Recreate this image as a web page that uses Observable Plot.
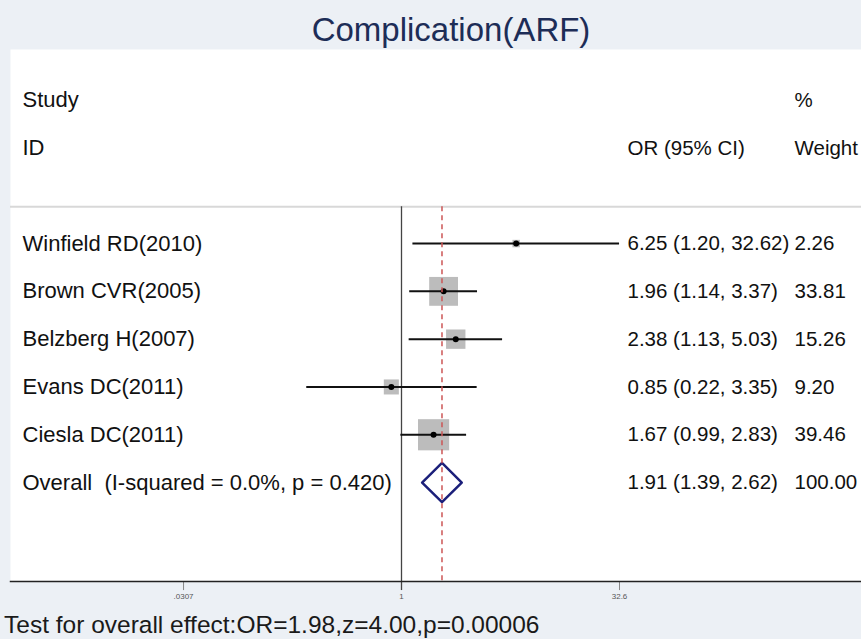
<!DOCTYPE html>
<html><head><meta charset="utf-8">
<script src="https://cdn.jsdelivr.net/npm/d3@7"></script>
<script src="https://cdn.jsdelivr.net/npm/@observablehq/plot@0.6"></script>
<style>
html,body{margin:0;padding:0;background:#ffffff;}
#wrap{width:861px;height:639px;background:#ecf0f5;overflow:hidden;font-family:"Liberation Sans",Arial,sans-serif;}
#title{position:relative;height:37px;margin-top:12px;}
#title span{position:absolute;left:451px;top:0px;transform:translateX(-50%);font-size:33px;line-height:36px;color:#1d2d57;white-space:nowrap;}
#chart svg{display:block;}
#caption{height:32px;line-height:36px;font-size:24.5px;color:#1a1a1a;padding-left:4px;white-space:nowrap;}
</style>
</head><body>
<div id="wrap">
  <div id="title"><span>Complication(ARF)</span></div>
  <div id="chart"></div>
  <div id="caption">Test for overall effect:OR=1.98,z=4.00,p=0.00006</div>
</div>
<script>
// ---- data ----
const studies = ["Winfield RD(2010)", "Brown CVR(2005)", "Belzberg H(2007)", "Evans DC(2011)", "Ciesla DC(2011)"];
const orValues = [6.25, 1.96, 2.38, 0.85, 1.67];
const ciLow = [1.20, 1.14, 1.13, 0.22, 0.99];
const ciHigh = [32.62, 3.37, 5.03, 3.35, 2.83];
const weights = [2.26, 33.81, 15.26, 9.20, 39.46];
const overallLabel = "Overall\u00a0 (I-squared = 0.0%, p = 0.420)";
const overallOR = 1.91, overallLow = 1.39, overallHigh = 2.62, overallWeight = 100.00;
const tickValues = [0.0307, 1, 32.6];
const tickLabels = [".0307", "1", "32.6"];
const headerLeft = ["Study", "ID"];
const headerOR = ["", "OR (95% CI)"];
const headerWeight = ["%", "Weight"];

// ---- tables ----
const rows = studies.map((s, i) => ({row: i + 1, study: s, or: orValues[i], lo: ciLow[i], hi: ciHigh[i], weight: weights[i]}));
const overallRow = {row: studies.length + 1, study: overallLabel, or: overallOR, lo: overallLow, hi: overallHigh, weight: overallWeight};
const allRows = [...rows, overallRow];
const headers = headerLeft.map((h, i) => ({row: i - 2, left: h, or: headerOR[i], weight: headerWeight[i]}));
const ticks = tickValues.map((v, i) => ({value: v, label: tickLabels[i]}));
const fmt = d3.format(".2f");
const dh = 0.41;
const diamond = [
  {x: overallRow.lo, y: overallRow.row},
  {x: overallRow.or, y: overallRow.row - dh},
  {x: overallRow.hi, y: overallRow.row},
  {x: overallRow.or, y: overallRow.row + dh}
];
const lineTop = 0.23, yMin = -3.06, yMax = 8.07, tickLen = 0.19;
const font = "Liberation Sans, Arial, sans-serif";
const leftSize = 22, rightSize = 20.5;

const chart = Plot.plot({
  width: 861, height: 558,
  marginLeft: 10, marginRight: 0, marginTop: 0, marginBottom: 26,
  style: {background: "#ecf0f5", fontFamily: font, overflow: "visible"},
  x: {type: "log", domain: [Math.exp(-391 / 62.57), Math.exp(460 / 62.57)], axis: null},
  y: {domain: [yMin, yMax], reverse: true, axis: null},
  r: {type: "sqrt", domain: [0, 40], range: [0, 17.7]},
  marks: [
    Plot.frame({fill: "white", stroke: "none"}),
    Plot.ruleY([lineTop], {stroke: "#d8d8d8", strokeWidth: 2}),
    Plot.ruleX(ticks, {x: "value", y1: yMax, y2: yMax + tickLen, stroke: "#888", strokeWidth: 1, clip: false}),
    Plot.ruleX([1], {y1: lineTop, y2: yMax + tickLen, stroke: "#444", strokeWidth: 1.3}),
    Plot.dot(rows, {x: "or", y: "row", r: "weight", symbol: "square", fill: "#bcbcbc", stroke: "none"}),
    Plot.ruleY(rows, {y: "row", x1: "lo", x2: "hi", stroke: "#111", strokeWidth: 2}),
    Plot.dot(rows, {x: "or", y: "row", r: 3, fill: "#000", stroke: "none"}),
    Plot.line(diamond, {x: "x", y: "y", curve: "linear-closed", stroke: "#1b1f7a", strokeWidth: 2.5, fill: "none"}),
    Plot.ruleX([overallOR], {y1: lineTop, y2: yMax, stroke: "#cc5555", strokeWidth: 1.5, strokeDasharray: "5,4"}),
    Plot.frame({anchor: "bottom", stroke: "#222", strokeWidth: 1.5}),
    Plot.text(ticks, {x: "value", text: "label", frameAnchor: "bottom", dy: 17, fontSize: 8, fill: "#555"}),
    Plot.text(headers, {y: "row", text: "left", frameAnchor: "left", dx: 12, textAnchor: "start", fontSize: leftSize, fill: "#111"}),
    Plot.text(headers, {y: "row", text: "or", frameAnchor: "left", dx: 617, textAnchor: "start", fontSize: rightSize, fill: "#111"}),
    Plot.text(headers, {y: "row", text: "weight", frameAnchor: "left", dx: 784, textAnchor: "start", fontSize: rightSize, fill: "#111"}),
    Plot.text(allRows, {y: "row", text: "study", frameAnchor: "left", dx: 12, textAnchor: "start", fontSize: leftSize, fill: "#111"}),
    Plot.text(allRows, {y: "row", text: d => `${fmt(d.or)} (${fmt(d.lo)}, ${fmt(d.hi)})`, frameAnchor: "left", dx: 617, textAnchor: "start", fontSize: rightSize, fill: "#111"}),
    Plot.text(allRows, {y: "row", text: d => fmt(d.weight), frameAnchor: "left", dx: 784, textAnchor: "start", fontSize: rightSize, fill: "#111"})
  ]
});
document.getElementById("chart").appendChild(chart);
</script>
</body></html>
